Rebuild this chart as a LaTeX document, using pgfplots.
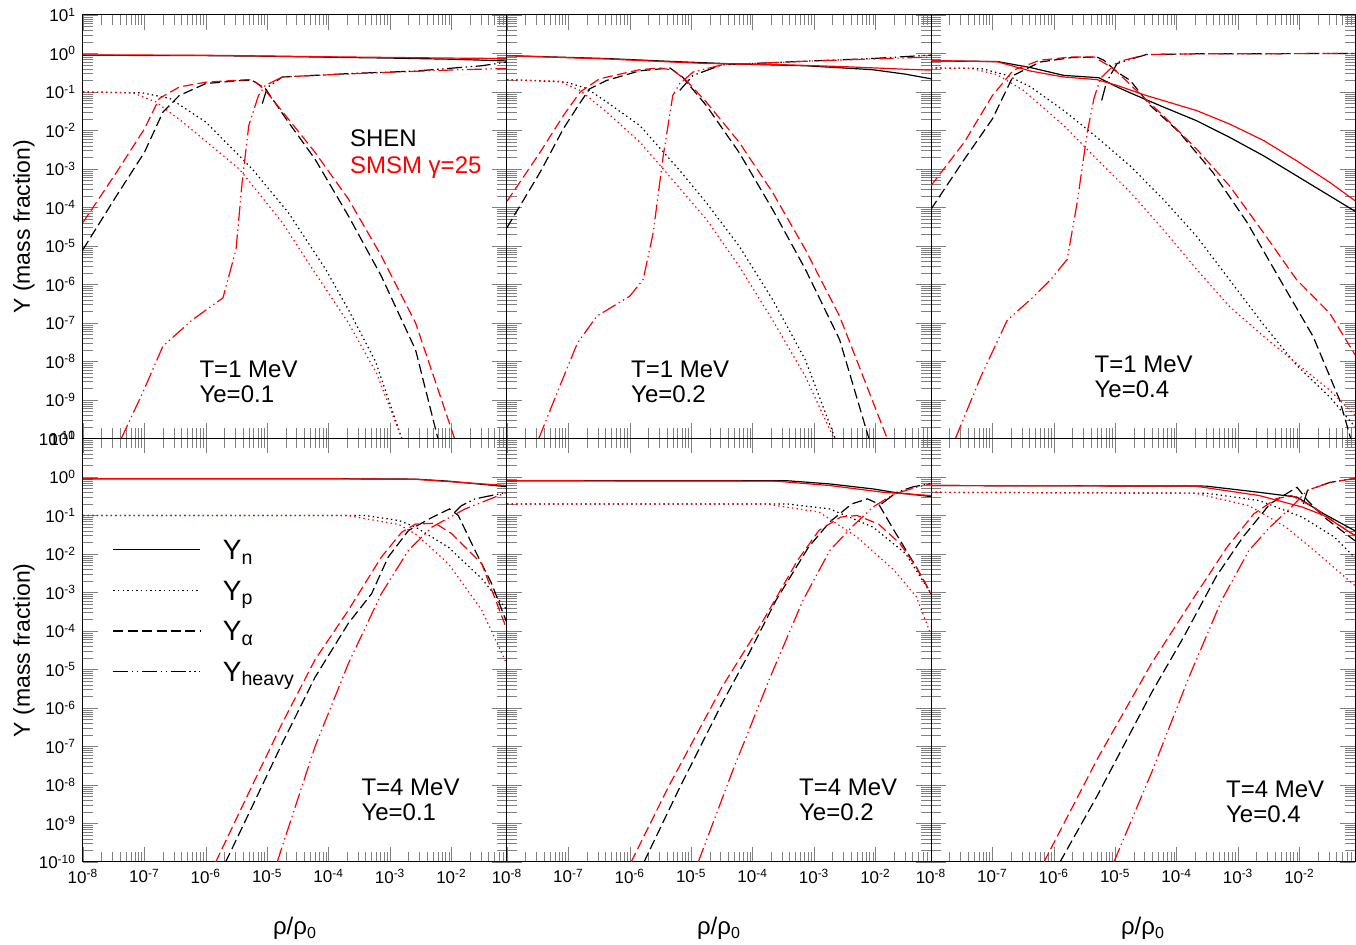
\documentclass[border=0pt]{standalone}
\usepackage{fontspec}
\setmainfont{Liberation Sans}
\usepackage{pgfplots}
\pgfplotsset{compat=1.18}
\pgfplotsset{legend image code/.code={\draw[#1] (0pt,3pt) -- (43.5pt,3pt);}}

\newenvironment{panel}[2]{%
\begin{axis}[
   xmode=log, ymode=log, scale only axis, width=212pt, height=211.75pt,
   at={#1}, anchor=north west,
   xmin=1e-8, xmax=0.08, ymin=1e-10, ymax=10,
   xtick={1e-8,1e-7,1e-6,1e-5,1e-4,1e-3,1e-2},
   ytick={1e-10,1e-9,1e-8,1e-7,1e-6,1e-5,1e-4,1e-3,1e-2,1e-1,1,10},
   minor xtick={2e-8,3e-8,4e-8,5e-8,6e-8,7e-8,8e-8,9e-8,2e-7,3e-7,4e-7,5e-7,6e-7,7e-7,8e-7,9e-7,2e-6,3e-6,4e-6,5e-6,6e-6,7e-6,8e-6,9e-6,2e-5,3e-5,4e-5,5e-5,6e-5,7e-5,8e-5,9e-5,2e-4,3e-4,4e-4,5e-4,6e-4,7e-4,8e-4,9e-4,2e-3,3e-3,4e-3,5e-3,6e-3,7e-3,8e-3,9e-3,2e-2,3e-2,4e-2,5e-2,6e-2,7e-2},
   minor ytick={2e-10,3e-10,4e-10,5e-10,6e-10,7e-10,8e-10,9e-10,2e-9,3e-9,4e-9,5e-9,6e-9,7e-9,8e-9,9e-9,2e-8,3e-8,4e-8,5e-8,6e-8,7e-8,8e-8,9e-8,2e-7,3e-7,4e-7,5e-7,6e-7,7e-7,8e-7,9e-7,2e-6,3e-6,4e-6,5e-6,6e-6,7e-6,8e-6,9e-6,2e-5,3e-5,4e-5,5e-5,6e-5,7e-5,8e-5,9e-5,2e-4,3e-4,4e-4,5e-4,6e-4,7e-4,8e-4,9e-4,2e-3,3e-3,4e-3,5e-3,6e-3,7e-3,8e-3,9e-3,2e-2,3e-2,4e-2,5e-2,6e-2,7e-2,8e-2,9e-2,0.2,0.3,0.4,0.5,0.6,0.7,0.8,0.9,2,3,4,5,6,7,8,9},
   tick align=inside, major tick length=7.5pt, minor tick length=5pt,
   xticklabel=\empty, yticklabel=\empty,
   tick label style={font=\fontsize{8.5}{9}\selectfont},
   axis line style={line width=0.5pt},
   xlabel style={at={(axis description cs:0.5,-0.172)}, anchor=base, font=\fontsize{12}{12}\selectfont},
   ylabel style={at={(axis description cs:-0.125,0.5)}, anchor=base, font=\fontsize{11.5}{12}\selectfont},
   #2]}{\end{axis}}

\tikzset{
 sblk/.style={black, line width=0.6pt},
 sred/.style={red, line width=0.6pt},
 lsn/.style={solid},
 lsp/.style={dash pattern=on 0.7pt off 1.6pt},
 lsa/.style={dash pattern=on 5pt off 2.2pt},
 lsh/.style={dash pattern=on 7.5pt off 1.8pt on 0.7pt off 1.8pt on 0.7pt off 1.8pt},
}
\newcommand{\panellabel}[3]{\node[anchor=base west, inner sep=0pt, font=\fontsize{12}{12}\selectfont] at (rel axis cs:#1,#2) {#3};}

\begin{document}
\begin{tikzpicture}
\useasboundingbox (-41.5pt,-465pt) rectangle (636.5pt,7.5pt);

% ---------------- Top left: T=1 MeV, Ye=0.1
\begin{panel}{(0pt,0pt)}{yticklabels={10\textsuperscript{-10},10\textsuperscript{-9},10\textsuperscript{-8},10\textsuperscript{-7},10\textsuperscript{-6},10\textsuperscript{-5},10\textsuperscript{-4},10\textsuperscript{-3},10\textsuperscript{-2},10\textsuperscript{-1},10\textsuperscript{0},10\textsuperscript{1}}, ylabel={Y (mass fraction)}}
\addplot[sblk,lsn] coordinates {(1e-8,0.9)(1e-6,0.88)(1e-5,0.85)(1e-4,0.8)(1e-3,0.76)(1e-2,0.71)(0.08,0.64)};
\addplot[sblk,lsp] coordinates {(1e-8,0.1)(9.3e-8,0.095)(2.6e-7,0.068)(1e-6,0.0166)(5.7e-6,1e-3)(2.2e-5,7.4e-5)(8.9e-5,2.5e-6)(2.1e-4,2.2e-7)(5.8e-4,1e-8)(1.55e-3,1e-10)};
\addplot[sblk,lsa] coordinates {(1e-8,8.1e-6)(3.5e-8,2e-4)(1e-7,2.7e-3)(2e-7,0.03)(3.7e-7,0.081)(1e-6,0.166)(3.9e-6,0.2)(5.7e-6,0.2)(9.3e-6,0.123)(2.2e-5,0.0166)(6e-5,1.8e-3)(2.1e-4,6e-5)(7.2e-4,1.65e-6)(2.6e-3,2e-8)(6e-3,1e-10)};
\addplot[sblk,lsh] coordinates {(8.3e-6,0.05)(1e-5,0.13)(1.75e-5,0.245)(2.1e-4,0.3)(2.6e-3,0.35)(0.031,0.48)(0.08,0.6)};
\addplot[sred,lsn] coordinates {(1e-8,0.92)(1e-6,0.9)(1e-5,0.86)(1e-4,0.82)(1e-3,0.79)(1e-2,0.76)(0.08,0.74)};
\addplot[sred,lsp] coordinates {(1e-8,0.1)(6.5e-8,0.095)(1.55e-7,0.055)(4.2e-7,0.0166)(3.5e-6,1e-3)(1.75e-5,4.1e-5)(6e-5,2e-6)(2.1e-4,1e-7)(6e-4,5e-9)(1.55e-3,1e-10)};
\addplot[sred,lsa] coordinates {(1e-8,4.1e-5)(3.5e-8,8.1e-4)(1e-7,0.011)(1.75e-7,0.068)(3.7e-7,0.135)(1e-6,0.18)(5e-6,0.21)(6.5e-6,0.18)(9.3e-6,0.11)(2.2e-5,0.02)(6e-5,2.7e-3)(2.1e-4,1.65e-4)(7.2e-4,5.5e-6)(2.6e-3,1e-7)(0.0112,1e-10)};
\addplot[sred,lsh] coordinates {(4.2e-8,1e-10)(9.3e-8,1.5e-9)(2e-7,2.5e-8)(6e-7,1.2e-7)(1.9e-6,4.5e-7)(3.1e-6,8.1e-6)(3.9e-6,4.5e-4)(5e-6,0.0135)(7.2e-6,0.081)(9.3e-6,0.148)(1.75e-5,0.245)(6e-5,0.27)(7.2e-4,0.32)(8.9e-3,0.37)(0.08,0.41)};
\panellabel{0.274}{0.143}{T=1 MeV}
\panellabel{0.274}{0.084}{Ye=0.1}
\panellabel{0.629}{0.69}{SHEN}
\node[anchor=base west, inner sep=0pt, font=\fontsize{12}{12}\selectfont, text=red] at (rel axis cs:0.629,0.626) {SMSM γ=25};
\end{panel}

% ---------------- Top middle: T=1 MeV, Ye=0.2
\begin{panel}{(212pt,0pt)}{}
\addplot[sblk,lsn] coordinates {(1e-8,0.88)(4.2e-7,0.74)(5e-6,0.62)(6e-5,0.53)(7.2e-4,0.48)(8.9e-3,0.38)(0.031,0.29)(0.08,0.22)};
\addplot[sblk,lsp] coordinates {(1e-8,0.21)(9.3e-8,0.18)(2e-7,0.123)(4.2e-7,0.055)(1.45e-6,0.0135)(6.2e-6,1e-3)(1.75e-5,1.35e-4)(6e-5,1e-5)(2.1e-4,4.1e-7)(7.2e-4,1.1e-8)(2.2e-3,1e-10)};
\addplot[sblk,lsa] coordinates {(1e-8,3e-5)(3.5e-8,8.5e-4)(8.3e-8,0.0112)(1.4e-7,0.041)(2.2e-7,0.12)(4.2e-7,0.2)(1.45e-6,0.355)(4.5e-6,0.42)(7.2e-6,0.245)(1.75e-5,0.045)(6e-5,2.7e-3)(2.1e-4,9e-5)(7.2e-4,2.5e-6)(2.6e-3,3.7e-8)(7.8e-3,1e-10)};
\addplot[sblk,lsh] coordinates {(6.5e-6,0.11)(1.07e-5,0.27)(3.2e-5,0.51)(7.2e-4,0.63)(8.9e-3,0.74)(0.08,0.91)};
\addplot[sred,lsn] coordinates {(1e-8,0.88)(4.2e-7,0.72)(5e-6,0.6)(1.75e-5,0.55)(2.1e-4,0.52)(2.6e-3,0.46)(0.031,0.39)(0.08,0.37)};
\addplot[sred,lsp] coordinates {(1e-8,0.21)(7.2e-8,0.19)(1.55e-7,0.11)(4.2e-7,0.03)(1.45e-6,5e-3)(3.5e-6,1e-3)(1.75e-5,5e-5)(6e-5,3e-6)(2.1e-4,1.2e-7)(7.2e-4,4.1e-9)(2.1e-3,1e-10)};
\addplot[sred,lsa] coordinates {(1e-8,1.45e-4)(3.5e-8,2.8e-3)(8.3e-8,0.0245)(1.55e-7,0.1)(3.2e-7,0.22)(1.45e-6,0.38)(3.1e-6,0.42)(5e-6,0.37)(8.3e-6,0.2)(1.75e-5,0.055)(6e-5,5e-3)(2.1e-4,2.5e-4)(7.2e-4,8.1e-6)(2.6e-3,1.5e-7)(0.0155,1e-10)};
\addplot[sred,lsh] coordinates {(3.3e-8,1e-10)(6.5e-8,1.5e-9)(1.4e-7,3e-8)(2.9e-7,1.5e-7)(1e-6,5e-7)(1.65e-6,1.35e-6)(2.4e-6,2.2e-5)(3.5e-6,2.2e-3)(5e-6,0.081)(6.5e-6,0.166)(1.07e-5,0.33)(3.2e-5,0.51)(7.2e-4,0.63)(0.08,0.81)};
\panellabel{0.292}{0.143}{T=1 MeV}
\panellabel{0.292}{0.084}{Ye=0.2}
\end{panel}

% ---------------- Top right: T=1 MeV, Ye=0.4
\begin{panel}{(424pt,0pt)}{}
\addplot[sblk,lsn] coordinates {(1e-8,0.64)(1.2e-7,0.62)(4.2e-7,0.43)(1.45e-6,0.27)(5.4e-6,0.235)(1.07e-5,0.135)(1.75e-5,0.095)(6e-5,0.041)(2.1e-4,0.018)(7.2e-4,6.7e-3)(2.6e-3,2.2e-3)(8.9e-3,6.7e-4)(0.08,8e-5)};
\addplot[sblk,lsp] coordinates {(1e-8,0.42)(6.5e-8,0.41)(1.75e-7,0.27)(4.2e-7,0.135)(1.45e-6,0.033)(5e-6,6.7e-3)(1.75e-5,1.2e-3)(6e-5,1.65e-4)(2.1e-4,1.8e-5)(7.2e-4,1.35e-6)(2.6e-3,9e-8)(8.9e-3,8.1e-9)(0.031,1.2e-9)(0.08,2e-10)};
\addplot[sblk,lsa] coordinates {(1e-8,9e-5)(3.5e-8,1.8e-3)(1e-7,0.02)(2.2e-7,0.27)(6e-7,0.6)(1.9e-6,0.78)(5e-6,0.81)(6.5e-6,0.67)(1.07e-5,0.33)(1.75e-5,0.2)(3.7e-5,0.045)(1.1e-4,9e-3)(3.9e-4,8.1e-4)(1.4e-3,4.1e-5)(4.8e-3,1.35e-6)(0.0166,4.5e-8)(0.045,1e-9)(0.068,1e-10)};
\addplot[sblk,lsh] coordinates {(6e-6,0.06)(7.2e-6,0.18)(1.07e-5,0.55)(3.2e-5,0.94)(2.1e-4,0.98)(0.08,1.0)};
\addplot[sred,lsn] coordinates {(1e-8,0.66)(1.2e-7,0.61)(4.2e-7,0.35)(1.45e-6,0.245)(5e-6,0.21)(1.07e-5,0.148)(3.2e-5,0.081)(2.1e-4,0.033)(7.2e-4,0.0148)(2.6e-3,5.5e-3)(8.9e-3,1.65e-3)(0.031,4.5e-4)(0.08,1.5e-4)};
\addplot[sred,lsp] coordinates {(1e-8,0.42)(4.5e-8,0.41)(1.2e-7,0.28)(3.2e-7,0.11)(1.45e-6,0.0135)(5e-6,1.8e-3)(1.75e-5,2.5e-4)(6e-5,2.7e-5)(2.1e-4,2.5e-6)(7.2e-4,2.7e-7)(2.6e-3,4.5e-8)(8.9e-3,9e-9)(0.031,1.8e-9)(0.08,4e-10)};
\addplot[sred,lsa] coordinates {(1e-8,3.7e-4)(3.5e-8,5e-3)(1e-7,0.081)(2.2e-7,0.37)(6e-7,0.67)(1.9e-6,0.81)(4.5e-6,0.81)(9.3e-6,0.41)(2.2e-5,0.11)(6e-5,0.0245)(2.1e-4,3.3e-3)(7.2e-4,3.7e-4)(2.6e-3,2.2e-5)(8.9e-3,1.35e-6)(0.031,1.8e-7)(0.08,1.5e-8)};
\addplot[sred,lsh] coordinates {(2.5e-8,1e-10)(6.5e-8,4.1e-9)(1.75e-7,1.2e-7)(4.2e-7,4.1e-7)(8.9e-7,1.35e-6)(1.65e-6,4.5e-6)(2.4e-6,1.35e-4)(3.5e-6,9e-3)(4.5e-6,0.068)(5.7e-6,0.22)(1.07e-5,0.6)(3.2e-5,0.94)(2.1e-4,0.98)(0.08,1.0)};
\panellabel{0.385}{0.157}{T=1 MeV}
\panellabel{0.385}{0.096}{Ye=0.4}
\end{panel}

% ---------------- Bottom left: T=4 MeV, Ye=0.1
\begin{panel}{(0pt,-211.75pt)}{yticklabels={10\textsuperscript{-10},10\textsuperscript{-9},10\textsuperscript{-8},10\textsuperscript{-7},10\textsuperscript{-6},10\textsuperscript{-5},10\textsuperscript{-4},10\textsuperscript{-3},10\textsuperscript{-2},10\textsuperscript{-1},10\textsuperscript{0},10\textsuperscript{1}}, ylabel={Y (mass fraction)},
  xticklabels={10\textsuperscript{-8},10\textsuperscript{-7},10\textsuperscript{-6},10\textsuperscript{-5},10\textsuperscript{-4},10\textsuperscript{-3},10\textsuperscript{-2}}, xlabel={ρ/ρ\textsubscript{0}},
  legend style={at={(axis description cs:0.055,0.776)}, anchor=north west, draw=none, fill=none,
    font=\fontsize{14}{14}\selectfont, row sep=2.3pt, column sep=10pt, cells={anchor=west},
    nodes={inner sep=1pt, text height=10pt, text depth=6pt}}}
\addlegendimage{sblk, lsn}
\addlegendentry{Y\textsubscript{n}}
\addlegendimage{sblk, lsp}
\addlegendentry{Y\textsubscript{p}}
\addlegendimage{sblk, lsa}
\addlegendentry{Y\textsubscript{α}}
\addlegendimage{sblk, lsh}
\addlegendentry{Y\textsubscript{heavy}}
\addplot[sblk,lsn,forget plot] coordinates {(1e-8,0.9)(1e-4,0.9)(2.6e-3,0.88)(8.9e-3,0.78)(0.08,0.56)};
\addplot[sblk,lsp,forget plot] coordinates {(1e-8,0.1)(3.9e-4,0.1)(1.4e-3,0.074)(2.6e-3,0.05)(8.9e-3,0.015)(0.031,2.3e-3)(0.08,3.5e-4)};
\addplot[sblk,lsa,forget plot] coordinates {(2.1e-6,1e-10)(5e-6,1.8e-9)(1.75e-5,1.2e-7)(6e-5,6.3e-6)(2.1e-4,1.6e-4)(5e-4,9.3e-4)(9.3e-4,8.3e-3)(2e-3,0.041)(4.8e-3,0.089)(9.3e-3,0.148)(0.0129,0.1)(0.024,0.0126)(0.045,1.7e-3)(0.08,1.6e-4)};
\addplot[sblk,lsh,forget plot] coordinates {(0.0112,0.12)(0.0145,0.18)(0.024,0.27)(0.08,0.4)};
\addplot[sred,lsn,forget plot] coordinates {(1e-8,0.9)(1e-4,0.9)(2.6e-3,0.87)(8.9e-3,0.76)(0.08,0.6)};
\addplot[sred,lsp,forget plot] coordinates {(1e-8,0.1)(2e-4,0.1)(1.4e-3,0.058)(2.6e-3,0.033)(8.9e-3,5.6e-3)(0.031,3.5e-4)(0.08,1.35e-5)};
\addplot[sred,lsa,forget plot] coordinates {(1.45e-6,1e-10)(5e-6,6.3e-9)(1.75e-5,4e-7)(6e-5,1.8e-5)(2.1e-4,3.5e-4)(7.2e-4,8.3e-3)(1.55e-3,0.037)(2.6e-3,0.06)(5.4e-3,0.063)(0.01,0.034)(0.031,5.6e-3)(0.08,1.07e-4)};
\addplot[sred,lsh,forget plot] coordinates {(1.45e-5,1e-10)(6e-5,1e-7)(2.1e-4,1.45e-5)(7.2e-4,9.3e-4)(2e-3,0.0126)(4.8e-3,0.05)(0.0166,0.148)(0.08,0.4)};
\panellabel{0.656}{0.158}{T=4 MeV}
\panellabel{0.656}{0.099}{Ye=0.1}
\end{panel}

% ---------------- Bottom middle: T=4 MeV, Ye=0.2
\begin{panel}{(212pt,-211.75pt)}{xticklabels={10\textsuperscript{-8},10\textsuperscript{-7},10\textsuperscript{-6},10\textsuperscript{-5},10\textsuperscript{-4},10\textsuperscript{-3},10\textsuperscript{-2}}, xlabel={ρ/ρ\textsubscript{0}}}
\addplot[sblk,lsn] coordinates {(1e-8,0.8)(3.6e-4,0.8)(1.8e-3,0.66)(9.1e-3,0.49)(0.02,0.4)(0.08,0.31)};
\addplot[sblk,lsp] coordinates {(1e-8,0.2)(3.6e-4,0.2)(1.8e-3,0.148)(9.1e-3,0.05)(0.031,0.0102)(0.08,9.3e-4)};
\addplot[sblk,lsa] coordinates {(1.7e-6,1e-10)(6.3e-6,7.8e-9)(3.2e-5,1.35e-6)(8.7e-5,2.6e-5)(2.4e-4,6.3e-4)(8.1e-4,0.015)(1.8e-3,0.068)(4.1e-3,0.2)(7.4e-3,0.27)(0.0112,0.2)(0.02,0.041)(0.046,4.6e-3)(0.08,9.3e-4)};
\addplot[sblk,lsh] coordinates {(0.0125,0.2)(0.022,0.4)(0.04,0.55)(0.08,0.68)};
\addplot[sred,lsn] coordinates {(1e-8,0.8)(2.4e-4,0.78)(1.8e-3,0.6)(0.0135,0.4)(0.08,0.33)};
\addplot[sred,lsp] coordinates {(1e-8,0.2)(1.6e-4,0.2)(1.2e-3,0.123)(5e-3,0.0275)(0.02,3.8e-3)(0.046,7.8e-4)(0.08,8e-5)};
\addplot[sred,lsa] coordinates {(1.05e-6,1e-10)(4.3e-6,9.3e-9)(3.2e-5,3.6e-6)(1.3e-4,1.3e-4)(5.4e-4,6.9e-3)(1.2e-3,0.041)(2.7e-3,0.091)(5e-3,0.1)(0.0112,0.06)(0.025,0.0186)(0.046,4.6e-3)(0.08,9.3e-4)};
\addplot[sred,lsh] coordinates {(1.3e-5,1e-10)(4.8e-5,2.5e-8)(1.95e-4,6.6e-6)(6.6e-4,6.3e-4)(1.8e-3,0.0123)(4.1e-3,0.05)(9.1e-3,0.166)(0.02,0.36)(0.046,0.54)(0.08,0.66)};
\panellabel{0.688}{0.158}{T=4 MeV}
\panellabel{0.688}{0.099}{Ye=0.2}
\end{panel}

% ---------------- Bottom right: T=4 MeV, Ye=0.4
\begin{panel}{(424pt,-211.75pt)}{xticklabels={10\textsuperscript{-8},10\textsuperscript{-7},10\textsuperscript{-6},10\textsuperscript{-5},10\textsuperscript{-4},10\textsuperscript{-3},10\textsuperscript{-2}}, xlabel={ρ/ρ\textsubscript{0}}}
\addplot[sblk,lsn] coordinates {(1e-8,0.6)(3e-4,0.58)(2.2e-3,0.4)(9.1e-3,0.3)(0.025,0.11)(0.08,0.04)};
\addplot[sblk,lsp] coordinates {(1e-8,0.4)(3e-4,0.38)(2.2e-3,0.245)(0.011,0.091)(0.037,0.0275)(0.08,8e-3)};
\addplot[sblk,lsa] coordinates {(1.26e-6,1e-10)(5.2e-6,5.6e-9)(3.9e-5,2.5e-6)(1.3e-4,7e-5)(4.4e-4,2.6e-3)(1.2e-3,0.0275)(3.3e-3,0.2)(6e-3,0.36)(9.1e-3,0.54)(0.0135,0.245)(0.025,0.091)(0.08,0.022)};
\addplot[sblk,lsh] coordinates {(0.0115,0.2)(0.0135,0.45)(0.031,0.72)(0.08,0.92)};
\addplot[sred,lsn] coordinates {(1e-8,0.6)(2e-4,0.58)(2.2e-3,0.33)(0.011,0.166)(0.025,0.1)(0.08,0.03)};
\addplot[sred,lsp] coordinates {(1e-8,0.4)(2e-4,0.38)(1.5e-3,0.18)(6e-3,0.05)(0.02,0.0102)(0.08,1.5e-3)};
\addplot[sred,lsa] coordinates {(6.9e-7,1e-10)(5.2e-6,5e-8)(3.9e-5,1.45e-5)(1.95e-4,7.8e-4)(6.6e-4,0.015)(1.8e-3,0.11)(4.1e-3,0.27)(7.4e-3,0.33)(0.0166,0.166)(0.037,0.068)(0.08,0.03)};
\addplot[sred,lsh] coordinates {(9.5e-6,1e-10)(3.9e-5,2.1e-8)(1.6e-4,6.6e-6)(5.4e-4,6.3e-4)(1.5e-3,0.0123)(3.3e-3,0.05)(7.4e-3,0.166)(0.0135,0.45)(0.031,0.72)(0.08,0.92)};
\panellabel{0.695}{0.152}{T=4 MeV}
\panellabel{0.695}{0.093}{Ye=0.4}
\end{panel}
\end{tikzpicture}
\end{document}
